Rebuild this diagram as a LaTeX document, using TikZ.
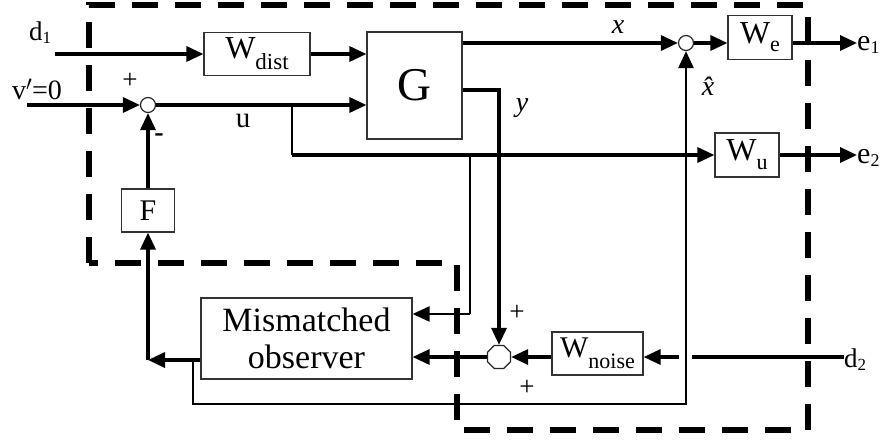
\documentclass[tikz,border=0pt]{standalone}
\usepackage{fontspec}
\setmainfont{Liberation Serif}
\usetikzlibrary{arrows.meta,shapes.geometric}
\newcommand\fs[1]{\fontsize{#1}{#1}\selectfont}
\newcommand\dn[3]{\raisebox{-#1pt}{\fs{#2}#3}}
\begin{document}
\begin{tikzpicture}[x=1pt,y=-1pt,
 box/.style={draw=black!80,line width=1.2pt,inner sep=0pt,fill=white},
 sig/.style={line width=3.3pt,-{Triangle[length=17pt,width=15pt]}},
 plain/.style={line width=3.3pt},
 thinsig/.style={line width=2.4pt,-{Triangle[length=17pt,width=15pt]}},
 thinl/.style={line width=2.2pt},
 sumc/.style={circle,draw=black!85,line width=1.2pt,fill=white,minimum size=15pt,inner sep=0pt},
 lbl/.style={inner sep=0pt},
 border/.style={line width=5.5pt,dash pattern=on 26pt off 17pt},
]
\useasboundingbox (0,0) rectangle (893,439);
% dashed boundary
\draw[border] (89,263) -- (89,5) -- (808,5) -- (808,430) -- (457,430) -- (457,263) -- cycle;
% blocks
\node[box,minimum width=106pt,minimum height=43pt] (Wdist) at (257,54) {\fs{32}W\dn{11}{23}{dist}};
\node[box,minimum width=95pt,minimum height=107pt] (G) at (414.5,85.5) {\fs{47}G};
\node[box,minimum width=64pt,minimum height=44pt] (We) at (760,37.5) {\fs{32}W\dn{8}{22}{e}};
\node[box,minimum width=64pt,minimum height=44pt] (Wu) at (747,155) {\fs{32}W\dn{9}{22}{u}};
\node[box,minimum width=53pt,minimum height=43pt] (F) at (148,210.5) {\fs{30}F};
\node[box,minimum width=211pt,minimum height=81pt,align=center,font=\fontsize{34}{37}\selectfont] (Obs) at (306.5,338.5) {Mismatched\\observer};
\node[box,minimum width=91pt,minimum height=43pt] (Wn) at (597.5,353.5) {\fs{30}W\dn{11}{22}{noise}};
\node[sumc] (s1) at (148,105) {};
\node[sumc] (s2) at (686,43) {};
\node[regular polygon,regular polygon sides=8,draw=black!85,line width=1.2pt,fill=white,minimum size=25pt,inner sep=0pt] (s3) at (499,357) {};
% labels
\node[lbl] (d1) at (40,33) {\fs{27}d\dn{3}{17}{1}};
\node[lbl] (vp) at (37,89) {\fs{28}v$'$=0};
\node[lbl] (e1) [anchor=west] at (857,45) {\fs{30}e\dn{3}{18}{1}};
\node[lbl] (e2) [anchor=west] at (857,158) {\fs{30}e\dn{3}{18}{2}};
\node[lbl] (d2) [anchor=west] at (844,360) {\fs{27}d\dn{3}{17}{2}};
\node[lbl] at (130,81) {\fs{27}+};
\node[lbl] at (159,138) {\fs{28}\bfseries -};
\node[lbl] at (243,121) {\fs{29}u};
\node[lbl] at (618,27) {\fs{28}\itshape x};
\node[lbl] at (522,108) {\fs{28}\itshape y};
\node[lbl] at (708,86) {\fs{28}\itshape \^{x}};
\node[lbl] at (517,313) {\fs{27}+};
\node[lbl] at (527,388) {\fs{27}+};
% coordinates
\coordinate (d1in) at (55,54);
\coordinate (vin) at (27,105);
\coordinate (ub) at (292,105);
\coordinate (ub2) at (292,155);
\coordinate (ob) at (470,155);
\coordinate (ob2) at (470,314);
\coordinate (yc) at (499,90);
\coordinate (fb) at (148,360);
\coordinate (xb) at (193,360);
\coordinate (xb2) at (193,404);
\coordinate (xb3) at (686,404);
\coordinate (gapR) at (692,357);
\coordinate (gapL) at (679,357);
% connectors
\draw[sig] (d1in) -- (Wdist.west);
\draw[sig] (Wdist.east) -- (Wdist.east -| G.west);
\draw[sig] (vin) -- (s1.west);
\draw[sig] (s1.east) -- (s1.east -| G.west);
\draw[thinl] (ub) -- (ub2);
\draw[sig] (ub2) -- (Wu.west);
\draw[sig] (Wu.east) -- (e2.west |- Wu.east);
\draw[thinl] (ob) -- (ob2);
\draw[thinsig] (ob2) -- (ob2 -| Obs.east);
\draw[sig] (G.east |- yc) -- (yc) -- (s3.north);
\draw[sig] (G.east |- s2) -- (s2.west);
\draw[sig] (s2.east) -- (s2.east -| We.west);
\draw[sig] (s2.east -| We.east) -- (e1.west |- s2);
\draw[sig] (Wn.west |- s3) -- (s3.east);
\draw[sig] (s3.west) -- (s3.west -| Obs.east);
\draw[plain] (d2.west |- gapR) -- (gapR);
\draw[sig] (gapL) -- (gapL -| Wn.east);
\draw[sig] (Obs.west |- fb) -- (fb);
\draw[sig] (fb) -- (F.south);
\draw[sig] (F.north) -- (s1.south);
\draw[thinsig] (xb) -- (xb2) -- (xb3) -- (s2.south);
\end{tikzpicture}
\end{document}
